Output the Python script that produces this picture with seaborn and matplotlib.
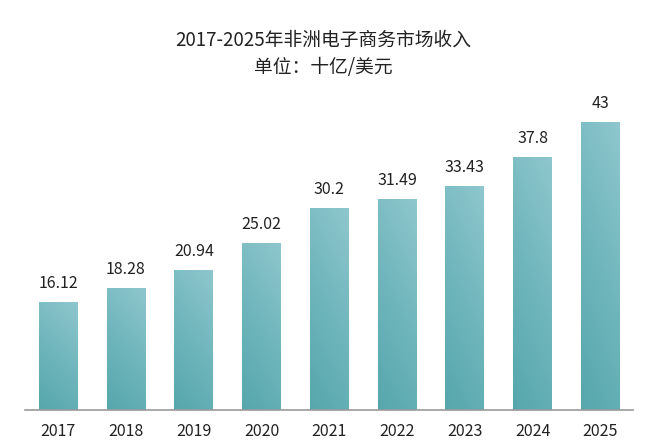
import numpy as np
import pandas as pd
import matplotlib
matplotlib.use("Agg")
import matplotlib.pyplot as plt
import seaborn as sns
from matplotlib.colors import LinearSegmentedColormap

years = ["2017", "2018", "2019", "2020", "2021", "2022", "2023", "2024", "2025"]
revenue = [16.12, 18.28, 20.94, 25.02, 30.2, 31.49, 33.43, 37.8, 43]
value_labels = ["16.12", "18.28", "20.94", "25.02", "30.2", "31.49", "33.43", "37.8", "43"]
title_line1 = "2017-2025年非洲电子商务市场收入"
title_line2 = "单位：十亿/美元"

sns.set_theme(style="white")
plt.rcParams['font.family'] = ['Noto Sans CJK SC', 'DejaVu Sans']

df = pd.DataFrame({"year": years, "revenue": revenue})

W, H = 646, 446
fig = plt.figure(figsize=(W / 100, H / 100), dpi=100)
ax = fig.add_axes([25 / W, (H - 410) / H, (633 - 25) / W, (410 - 90) / H])

sns.barplot(data=df, x="year", y="revenue", color="#6fb6bc", width=0.575,
            saturation=1, ax=ax)

ax.set_xlim(-0.49, 8.48)
ax.set_ylim(0, 47.8)

# gradient fill clipped to each bar
cmap = LinearSegmentedColormap.from_list("g", ["#56a7ad", "#6fb6bc", "#8ec7cd"])
grad = np.add.outer(np.linspace(0, 1, 100), np.linspace(0, 0.35, 30))
grad = grad / grad.max()
for p in ax.patches:
    x0, y0 = p.get_x(), p.get_y()
    w, h = p.get_width(), p.get_height()
    im = ax.imshow(grad, extent=[x0, x0 + w, y0, y0 + h], origin="lower",
                   cmap=cmap, aspect="auto", zorder=p.get_zorder() + 0.1,
                   interpolation="bicubic")
    im.set_clip_path(p)
ax.set_xlim(-0.49, 8.48)
ax.set_ylim(0, 47.8)

ax.bar_label(ax.containers[0], labels=value_labels, padding=7,
             fontsize=11.5, color="#222222")

for s in ["top", "right", "left"]:
    ax.spines[s].set_visible(False)
ax.spines["bottom"].set_color("#9a9a9a")
ax.spines["bottom"].set_linewidth(1.2)
ax.set_yticks([])
ax.set_xlabel("")
ax.set_ylabel("")
ax.tick_params(axis="x", length=0, pad=9, labelsize=11.5, colors="#222222")

fig.text(0.5, 1 - 40 / H, title_line1, ha="center", va="center",
         fontsize=13.5, color="#222222")
fig.text(0.5, 1 - 67 / H, title_line2, ha="center", va="center",
         fontsize=13.5, color="#222222")

fig.savefig("out.png", dpi=100, facecolor="white")
